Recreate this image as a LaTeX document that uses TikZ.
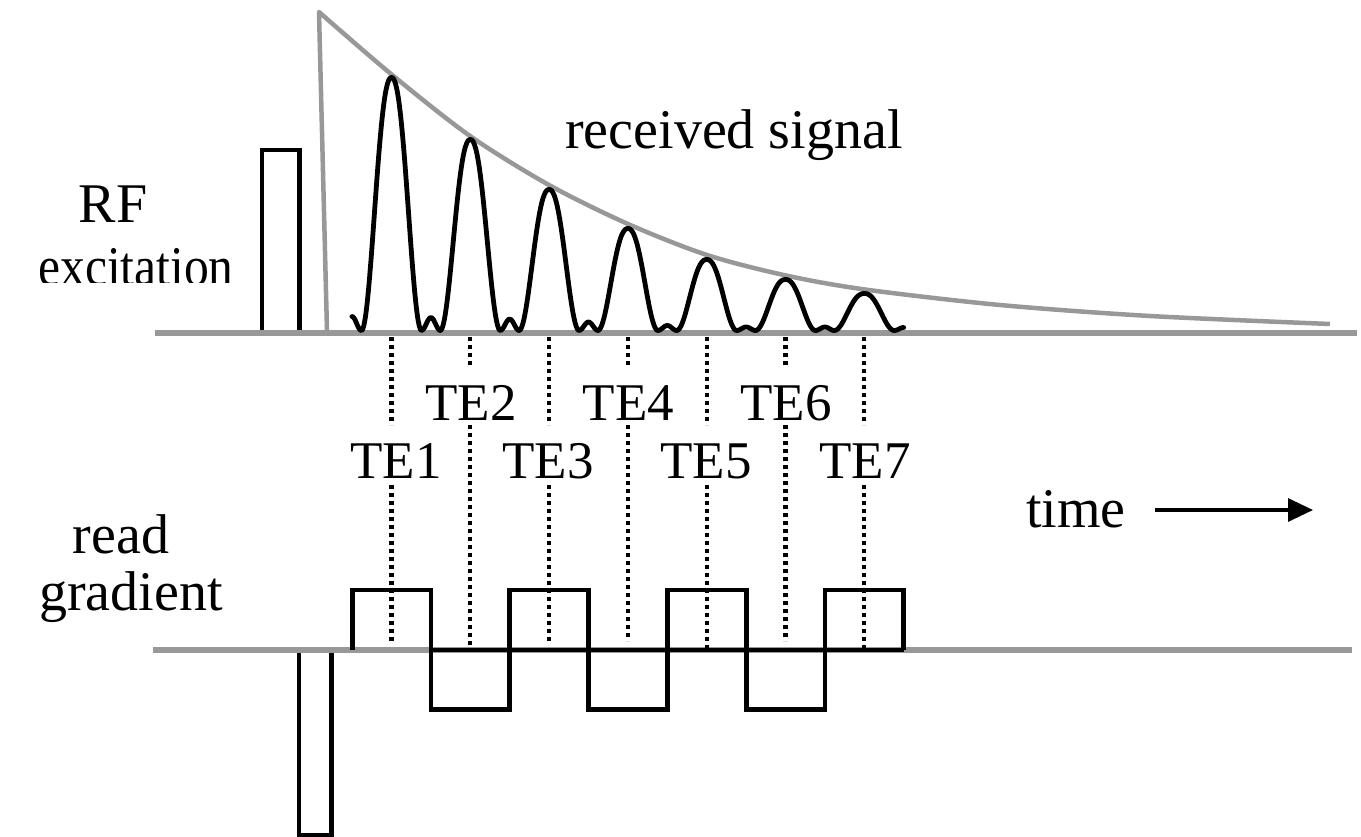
\documentclass[tikz,border=0pt]{standalone}
\usepackage{fontspec}
\setmainfont{Liberation Serif}
\usetikzlibrary{arrows.meta}
\definecolor{axisgray}{RGB}{152,152,152}
\begin{document}
\begin{tikzpicture}[x=1pt,y=-1pt,
  lbl/.style={anchor=base, inner sep=0pt, font=\fontsize{56}{60}\selectfont},
  telbl/.style={anchor=base, inner sep=0pt, font=\fontsize{53}{60}\selectfont},
  axisline/.style={draw=axisgray, line width=6pt},
  envline/.style={draw=axisgray, line width=4.5pt, line join=round},
  wave/.style={draw=black, line width=4.8pt, line join=miter},
  sig/.style={draw=black, line width=4.8pt, line join=round, line cap=round},
  guide/.style={draw=black, line width=4.2pt, dash pattern=on 4pt off 4pt},
]
\useasboundingbox (0,0) rectangle (1361,837);

% ---------- RF line ----------
\draw[wave] (262,333) -- (262,150) -- (299.5,150) -- (299.5,333);
\draw[axisline] (155,332.5) coordinate (rfL) -- (1357,332.5) coordinate (rfR);

% envelope
\draw[envline] (327,331) -- (319,12) -- plot[smooth] coordinates {(319,12) (391,74) (470,136) (549,185) (628,224) (707,255) (786,275.5) (865,289.5) (1000,305) (1150,316) (1330,324)};

% received echoes
\draw[sig] plot[domain=351.95:361.5, samples=12] (\x,{330.5-14*cos((\x-351.95)*90/9.45)^2})
  \foreach \c/\h/\b in {391.5/253/13, 470.3/191/11.5, 549.1/141/8.5, 627.9/102/5, 706.7/71/3.5, 785.5/51/3.5} {
    -- plot[domain=\c-30:\c+30, samples=61] (\x,{330.5-\h*cos(90*(abs(\x-\c)/30+0.00001)^1.15)^2})
    -- plot[domain=\c+30:\c+48.8, samples=15] (\x,{330.5-\b*cos((\x-\c-39.4)*90/9.4)^2})
  }
  -- plot[domain=834.3:894.3, samples=61] (\x,{330.5-37*cos(90*(abs(\x-864.3)/30+0.00001)^1.15)^2})
  -- plot[domain=894.3:903.7, samples=10] (\x,{330.5-3*cos((\x-903.7)*90/9.4)^2});

% ---------- gradient line ----------
\draw[wave] (299,650) -- (299,835) -- (331.3,835) -- (331.3,650);
\draw[axisline] (153,649.7) coordinate (grL) -- (1352,649.7) coordinate (grR);
\draw[wave] (352.1,650) -- (352.1,590) -- (430.9,590) -- (430.9,709.5) -- (509.7,709.5)
  -- (509.7,590) -- (588.5,590) -- (588.5,709.5) -- (667.3,709.5) -- (667.3,590)
  -- (746.1,590) -- (746.1,709.5) -- (824.9,709.5) -- (824.9,590) -- (903.7,590) -- (903.7,650);
\draw[wave] (430.9,650) -- (903.7,650);

% ---------- echo time guides ----------
\foreach \c/\e in {391.5/641, 549.1/641, 706.7/652, 864.3/652} {
  \draw[guide] (\c,337) -- (\c,425);
  \draw[guide] (\c,485) -- (\c,\e);
}
\foreach \c/\e in {470.3/651, 627.9/641, 785.5/641} {
  \draw[guide] (\c,337) -- (\c,365);
  \draw[guide] (\c,425) -- (\c,\e);
}

% ---------- labels ----------
\node[lbl] (recv) at (734,149) {received signal};
\node[lbl] (rf) at (113,223) {RF};
\begin{scope}
  \clip (0,0) rectangle (300,283);
  \node[lbl] (exc) at (136,286) {\scalebox{0.885}[1]{excitation}};
\end{scope}
\node[lbl] (read) at (121,553) {read};
\node[lbl] (grad) at (131,610) {gradient};

\node[telbl] (te1) at (396,478) {TE1};
\node[telbl] (te2) at (471,420) {TE2};
\node[telbl] (te3) at (548,478) {TE3};
\node[telbl] (te4) at (628.5,420) {TE4};
\node[telbl] (te5) at (706,478) {TE5};
\node[telbl] (te6) at (786,420) {TE6};
\node[telbl] (te7) at (865,478) {TE7};

\node[lbl] (time) at (1076,527) {time};
\coordinate (tipend) at (1313,510);
\draw[line width=3.4pt, -{Triangle[length=25pt,width=23pt]}] (1155,510) coordinate (tailstart) -- (tipend);
\end{tikzpicture}
\end{document}
